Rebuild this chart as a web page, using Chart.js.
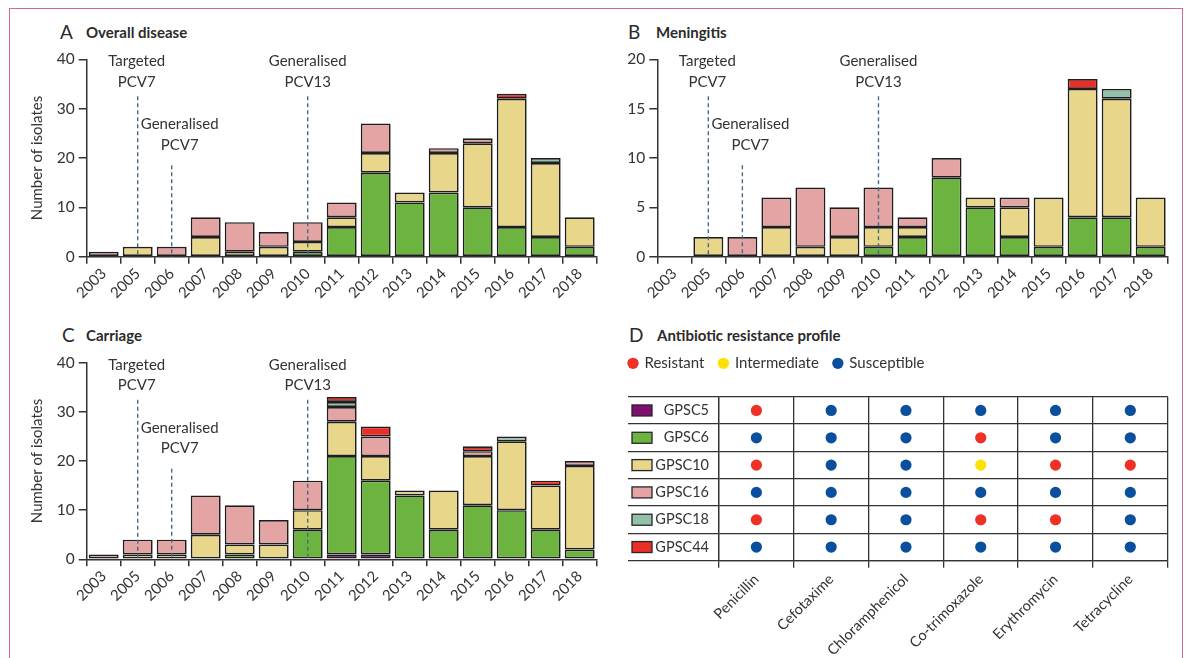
<!DOCTYPE html>
<html>
<head>
<meta charset="utf-8">
<script src="https://cdn.jsdelivr.net/npm/chart.js@4.4.1/dist/chart.umd.min.js"></script>
<style>
  html, body { margin: 0; padding: 0; background: #fff; }
  body { width: 1189px; height: 658px; position: relative; overflow: hidden; font-family: Lato, "Open Sans", sans-serif; color: #2b2b2b; }
  .frame { position: absolute; left: 9px; top: 8px; width: 1174px; height: 700px; border: 1.5px solid #d8668f; box-sizing: border-box; }
  .panel { position: absolute; }
  .ttl { position: absolute; white-space: nowrap; line-height: 22px; }
  .ttl .lt { position: absolute; left: 0; font-size: 19px; }
  .ttl .nm { position: absolute; font-size: 15px; font-weight: bold; }
</style>
</head>
<body>
<div class="frame"></div>

<div class="ttl" style="left:60px; top:21px;"><span class="lt">A</span><span class="nm" style="left:26px;">Overall disease</span></div>
<div class="ttl" style="left:628px; top:21px;"><span class="lt">B</span><span class="nm" style="left:28px;">Meningitis</span></div>
<div class="ttl" style="left:62px; top:324px;"><span class="lt">C</span><span class="nm" style="left:24px;">Carriage</span></div>
<div class="ttl" style="left:629px; top:324px;"><span class="lt">D</span><span class="nm" style="left:28px;">Antibiotic resistance profile</span></div>

<canvas id="chartA" class="panel" style="left:0px; top:0px;" width="610" height="300"></canvas>
<canvas id="chartB" class="panel" style="left:590px; top:0px;" width="590" height="300"></canvas>
<canvas id="chartC" class="panel" style="left:0px; top:300px;" width="610" height="320"></canvas>
<canvas id="chartD" class="panel" style="left:600px; top:330px;" width="589" height="328"></canvas>

<script>
const years = ['2003', '2005', '2006', '2007', '2008', '2009', '2010', '2011', '2012', '2013', '2014', '2015', '2016', '2017', '2018'];
const clusters = ['GPSC5', 'GPSC6', 'GPSC10', 'GPSC16', 'GPSC18', 'GPSC44'];
const clusterColours = ['#7e1071', '#6db33f', '#e8d68b', '#e3a4a3', '#93c0a9', '#ec2d25'];

// A: overall disease, isolates per year
const diseaseGPSC5  = [0, 0, 0, 0, 0, 0, 0, 0, 0, 0, 0, 0, 0, 0, 0];
const diseaseGPSC6  = [0, 0, 0, 0, 0, 0, 1, 6, 17, 11, 13, 10, 6, 4, 2];
const diseaseGPSC10 = [0, 2, 0, 4, 1, 2, 2, 2, 4, 2, 8, 13, 26, 15, 6];
const diseaseGPSC16 = [1, 0, 2, 4, 6, 3, 4, 3, 6, 0, 1, 1, 0, 0, 0];
const diseaseGPSC18 = [0, 0, 0, 0, 0, 0, 0, 0, 0, 0, 0, 0, 0, 1, 0];
const diseaseGPSC44 = [0, 0, 0, 0, 0, 0, 0, 0, 0, 0, 0, 0, 1, 0, 0];

// B: meningitis
const meningGPSC5  = [0, 0, 0, 0, 0, 0, 0, 0, 0, 0, 0, 0, 0, 0, 0];
const meningGPSC6  = [0, 0, 0, 0, 0, 0, 1, 2, 8, 5, 2, 1, 4, 4, 1];
const meningGPSC10 = [0, 2, 0, 3, 1, 2, 2, 1, 0, 1, 3, 5, 13, 12, 5];
const meningGPSC16 = [0, 0, 2, 3, 6, 3, 4, 1, 2, 0, 1, 0, 0, 0, 0];
const meningGPSC18 = [0, 0, 0, 0, 0, 0, 0, 0, 0, 0, 0, 0, 0, 1, 0];
const meningGPSC44 = [0, 0, 0, 0, 0, 0, 0, 0, 0, 0, 0, 0, 1, 0, 0];

// C: carriage
const carriageGPSC5  = [0, 0, 0, 0, 0, 0, 0, 1, 1, 0, 0, 0, 0, 0, 0];
const carriageGPSC6  = [0, 0, 0, 0, 1, 0, 6, 20, 15, 13, 6, 11, 10, 6, 2];
const carriageGPSC10 = [0, 1, 1, 5, 2, 3, 4, 7, 5, 1, 8, 10, 14, 9, 17];
const carriageGPSC16 = [1, 3, 3, 8, 8, 5, 6, 3, 4, 0, 0, 1, 0, 0, 1];
const carriageGPSC18 = [0, 0, 0, 0, 0, 0, 0, 1, 0, 0, 0, 0, 1, 0, 0];
const carriageGPSC44 = [0, 0, 0, 0, 0, 0, 0, 1, 2, 0, 0, 1, 0, 1, 0];

// vaccine introductions marked on A-C
const vaccineYears = ['2005', '2006', '2010'];
const vaccineLabels = [['Targeted', 'PCV7'], ['Generalised', 'PCV7'], ['Generalised', 'PCV13']];

// D: antibiotic resistance (R resistant, I intermediate, S susceptible)
const antibiotics = ['Penicillin', 'Cefotaxime', 'Chloramphenicol', 'Co-trimoxazole', 'Erythromycin', 'Tetracycline'];
const statuses = ['Resistant', 'Intermediate', 'Susceptible'];
const statusCodes = ['R', 'I', 'S'];
const statusColours = ['#ee3124', '#fde100', '#0a4f9d'];
const profileGPSC5  = ['R', 'S', 'S', 'S', 'S', 'S'];
const profileGPSC6  = ['S', 'S', 'S', 'R', 'S', 'S'];
const profileGPSC10 = ['R', 'S', 'S', 'I', 'R', 'R'];
const profileGPSC16 = ['S', 'S', 'S', 'S', 'S', 'S'];
const profileGPSC18 = ['R', 'S', 'S', 'R', 'R', 'S'];
const profileGPSC44 = ['S', 'S', 'S', 'S', 'S', 'S'];

const ink = '#333333';
Chart.defaults.font.family = 'Lato, "Open Sans", sans-serif';
Chart.defaults.font.size = 15;
Chart.defaults.color = ink;

// dashed vaccine lines + their labels
const vaccinePlugin = {
  id: 'vaccine',
  afterDatasetsDraw(chart) {
    const { ctx, chartArea, scales: { x } } = chart;
    const spots = [
      { text: 2, line: 37, dx: -1 },
      { text: 65, line: 106, dx: 8 },
      { text: 2, line: 37, dx: 0 }
    ];
    ctx.save();
    vaccineYears.forEach((yr, i) => {
      const px = x.getPixelForValue(years.indexOf(yr));
      const s = spots[i];
      ctx.strokeStyle = '#4d6b80';
      ctx.lineWidth = 1.4;
      ctx.setLineDash([4, 3]);
      ctx.beginPath();
      ctx.moveTo(px, chartArea.top + s.line);
      ctx.lineTo(px, chartArea.bottom);
      ctx.stroke();
      ctx.setLineDash([]);
      ctx.fillStyle = ink;
      ctx.font = '15px Lato, "Open Sans", sans-serif';
      ctx.textAlign = 'center';
      ctx.textBaseline = 'middle';
      vaccineLabels[i].forEach((t, k) => {
        ctx.fillText(t, px + s.dx, chartArea.top + s.text + k * 20.5);
      });
    });
    ctx.restore();
  }
};

function makeBars(id, series, yMax, yStep, pad, yWidth, xHeight, withTitle) {
  const datasets = series.map((vals, i) => ({
    label: clusters[i],
    data: vals.map(v => (v === 0 ? null : v)),
    backgroundColor: clusterColours[i],
    borderColor: '#1e1e1e',
    borderWidth: 1.7,
    borderSkipped: false,
    categoryPercentage: 1,
    barPercentage: 0.88
  }));
  return new Chart(document.getElementById(id), {
    type: 'bar',
    data: { labels: years, datasets },
    plugins: [vaccinePlugin],
    options: {
      responsive: false,
      animation: false,
      events: [],
      layout: { padding: pad },
      plugins: { legend: { display: false }, tooltip: { enabled: false } },
      scales: {
        x: {
          stacked: true,
          grid: { offset: true, drawOnChartArea: false, drawTicks: true, tickLength: 7, color: ink, lineWidth: 1.5 },
          border: { display: true, color: ink, width: 1.5 },
          ticks: { minRotation: 45, maxRotation: 45, autoSkip: false, padding: 1, color: ink, font: { size: 15 } },
          afterFit(s) { s.height = xHeight; s.paddingLeft = 0; s.paddingRight = 0; }
        },
        y: {
          stacked: true,
          min: 0,
          max: yMax,
          ticks: { stepSize: yStep, padding: 4, color: ink, font: { size: 15.5 } },
          grid: { drawOnChartArea: false, drawTicks: true, tickLength: 8, color: ink, lineWidth: 1.5 },
          border: { display: true, color: ink, width: 1.5 },
          title: { display: withTitle, text: 'Number of isolates', color: ink, font: { size: 15 }, padding: { top: 7.7, bottom: 0 } },
          afterFit(s) { s.width = yWidth; s.paddingTop = 0; s.paddingBottom = 0; }
        }
      }
    }
  });
}

makeBars('chartA',
  [diseaseGPSC5, diseaseGPSC6, diseaseGPSC10, diseaseGPSC16, diseaseGPSC18, diseaseGPSC44],
  40, 10, { top: 59.3, left: 20, right: 13.3, bottom: 0 }, 66.7, 43.3, true);

makeBars('chartB',
  [meningGPSC5, meningGPSC6, meningGPSC10, meningGPSC16, meningGPSC18, meningGPSC44],
  20, 5, { top: 59.3, left: 0, right: 12.3, bottom: 0 }, 67.3, 43.3, false);

makeBars('chartC',
  [carriageGPSC5, carriageGPSC6, carriageGPSC10, carriageGPSC16, carriageGPSC18, carriageGPSC44],
  40, 10, { top: 62.7, left: 20, right: 13.3, bottom: 0 }, 66.7, 60.7, true);

// D: resistance profile as a dot grid
const profiles = [profileGPSC5, profileGPSC6, profileGPSC10, profileGPSC16, profileGPSC18, profileGPSC44];
const dotSets = statuses.map((s, i) => ({
  label: s,
  data: [],
  backgroundColor: statusColours[i],
  borderWidth: 0,
  pointRadius: 5.6,
  pointHoverRadius: 5.6,
  pointStyle: 'circle'
}));
profiles.forEach((row, r) => {
  row.forEach((code, c) => {
    dotSets[statusCodes.indexOf(code)].data.push({ x: antibiotics[c], y: clusters[r] });
  });
});

const legendGap = {
  id: 'legendGap',
  beforeInit(chart) {
    const fit = chart.legend.fit;
    chart.legend.fit = function () {
      fit.bind(chart.legend)();
      this.height += 16;
    };
  }
};

const swatchPlugin = {
  id: 'swatches',
  afterDraw(chart) {
    const { ctx, chartArea, scales: { y } } = chart;
    ctx.save();
    clusters.forEach((c, i) => {
      const cy = y.getPixelForValue(i);
      ctx.fillStyle = clusterColours[i];
      ctx.fillRect(chartArea.left - 87, cy - 5.5, 20, 11);
      ctx.strokeStyle = '#262626';
      ctx.lineWidth = 1.3;
      ctx.strokeRect(chartArea.left - 87, cy - 5.5, 20, 11);
    });
    ctx.restore();
  }
};

new Chart(document.getElementById('chartD'), {
  type: 'scatter',
  data: { datasets: dotSets },
  plugins: [legendGap, swatchPlugin],
  options: {
    responsive: false,
    animation: false,
    events: [],
    layout: { padding: { top: 10.8, left: 14, right: 21.3, bottom: 0 } },
    plugins: {
      tooltip: { enabled: false },
      legend: {
        position: 'top',
        align: 'start',
        labels: { usePointStyle: true, boxWidth: 8, boxHeight: 8, padding: 15, color: ink, font: { size: 15 } }
      }
    },
    scales: {
      x: {
        type: 'category',
        labels: antibiotics,
        offset: true,
        grid: { offset: true, color: ink, lineWidth: 1.3, tickLength: 7, drawTicks: true },
        border: { display: true, color: ink, width: 1.3 },
        ticks: { minRotation: 45, maxRotation: 45, autoSkip: false, padding: 3, color: ink, font: { size: 14.5 } },
        afterFit(s) { s.height = 97.3; s.paddingLeft = 0; s.paddingRight = 0; }
      },
      y: {
        type: 'category',
        labels: clusters,
        offset: true,
        grid: { offset: true, color: ink, lineWidth: 1.3, tickLength: 91, drawTicks: true },
        border: { display: true, color: ink, width: 1.3 },
        ticks: { padding: -81, color: ink, font: { size: 14.5 } },
        afterFit(s) { s.width = 105; s.paddingTop = 0; s.paddingBottom = 0; }
      }
    }
  }
});
</script>
</body>
</html>
